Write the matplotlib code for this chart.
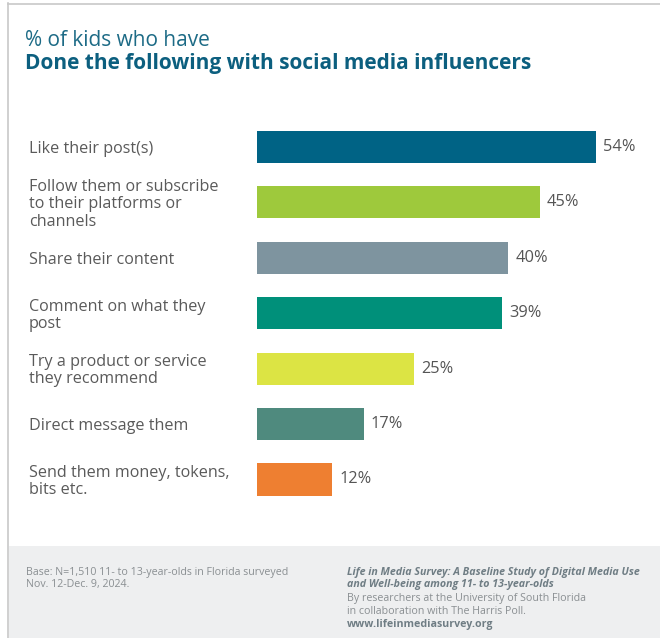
import matplotlib
matplotlib.use("Agg")
import matplotlib.pyplot as plt
from matplotlib.patches import Rectangle
from matplotlib.lines import Line2D
import matplotlib.transforms as mtransforms

plt.rcParams['font.family'] = ['Open Sans', 'DejaVu Sans']

categories = [
    "Like their post(s)",
    "Follow them or subscribe\nto their platforms or\nchannels",
    "Share their content",
    "Comment on what they\npost",
    "Try a product or service\nthey recommend",
    "Direct message them",
    "Send them money, tokens,\nbits etc.",
]
values = [54, 45, 40, 39, 25, 17, 12]
bar_colors = ["#006385", "#9ec93c", "#7e949f", "#00907a", "#dce444", "#4f8a7e", "#ee7f31"]
value_labels = [f"{v}%" for v in values]

W, H = 660, 638
fig = plt.figure(figsize=(W / 100, H / 100), dpi=100)
fig.patch.set_facecolor("white")

def fx(px):
    return px / W

def fy(py):
    return 1 - py / H

# frame lines and footer band
fig.add_artist(Line2D([fx(7.5), fx(7.5)], [0, fy(3)], color="#c8c8c8", lw=1.2))
fig.add_artist(Line2D([fx(7.5), 1], [fy(3.5), fy(3.5)], color="#c8c8c8", lw=1.2))
fig.add_artist(Rectangle((fx(8.5), 0), 1 - fx(8.5), fy(546), color="#eeeff0", lw=0))

# titles
fig.text(fx(25), fy(40.5), "% of kids who have", color="#1d6b86", fontsize=15,
         va="center", ha="left")
fig.text(fx(25), fy(64), "Done the following with social media influencers",
         color="#0c5f7f", fontsize=15, fontweight="bold", va="center", ha="left")

# bar area
top_px, bot_px = 119.3, 507.2
left_px = 257
scale = 6.28
xmax = 60
ax = fig.add_axes([fx(left_px), fy(bot_px), xmax * scale / W, (bot_px - top_px) / H])
ypos = list(range(len(values)))
ax.barh(ypos, values, height=0.58, color=bar_colors)
ax.set_xlim(0, xmax)
ax.set_ylim(len(values) - 0.5, -0.5)
ax.axis("off")

for y, v, lab in zip(ypos, values, value_labels):
    ax.text(v + 7 / scale, y, lab, color="#555555", fontsize=11.8, va="center", ha="left")

row_px = (bot_px - top_px) / len(values)
trans = mtransforms.blended_transform_factory(fig.transFigure, ax.transData)
for y, cat in zip(ypos, categories):
    fig.text(fx(29), y + 2 / row_px, cat, transform=trans, color="#5a5a5a", fontsize=11.6,
             va="center", ha="left", linespacing=1.1)

# footer notes
foot_col = "#8a8f92"
src_col = "#6f7d84"
fs = 7.7
fig.text(fx(26), fy(572), "Base: N=1,510 11- to 13-year-olds in Florida surveyed",
         color=foot_col, fontsize=fs, va="center", ha="left")
fig.text(fx(26), fy(585), "Nov. 12-Dec. 9, 2024.",
         color=foot_col, fontsize=fs, va="center", ha="left")
fig.text(fx(347), fy(572), "Life in Media Survey: A Baseline Study of Digital Media Use",
         color=src_col, fontsize=fs, fontweight="bold", style="italic", va="center", ha="left")
fig.text(fx(347), fy(585), "and Well-being among 11- to 13-year-olds",
         color=src_col, fontsize=fs, fontweight="bold", style="italic", va="center", ha="left")
fig.text(fx(347), fy(598), "By researchers at the University of South Florida",
         color=foot_col, fontsize=fs, va="center", ha="left")
fig.text(fx(347), fy(611), "in collaboration with The Harris Poll.",
         color=foot_col, fontsize=fs, va="center", ha="left")
fig.text(fx(347), fy(624), "www.lifeinmediasurvey.org",
         color=src_col, fontsize=fs, fontweight="bold", va="center", ha="left")

fig.savefig("out.png", dpi=100)
